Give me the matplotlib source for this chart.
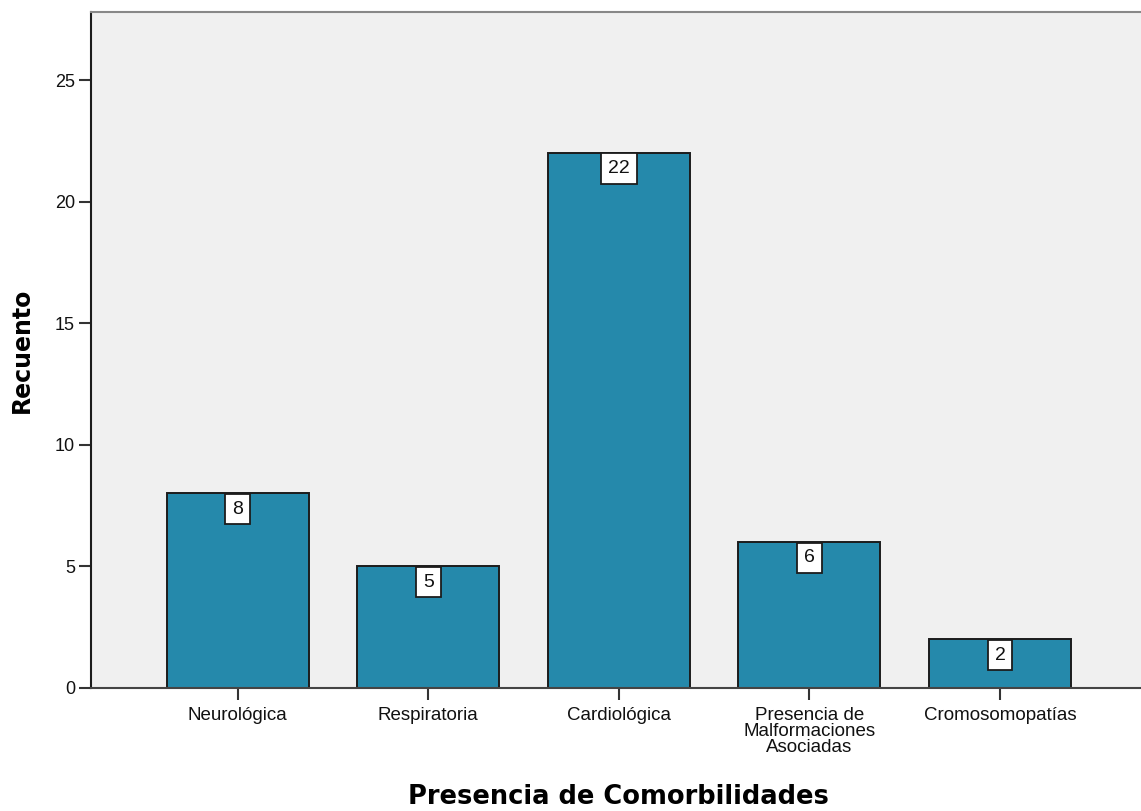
import matplotlib.pyplot as plt

categories = ["Neurológica", "Respiratoria", "Cardiológica",
              "Presencia de\nMalformaciones\nAsociadas", "Cromosomopatías"]
counts = [8, 5, 22, 6, 2]
yticks = [0, 5, 10, 15, 20, 25]

bar_color = "#2589ab"
W, H = 1141, 811

fig = plt.figure(figsize=(W / 100, H / 100), dpi=100)
# axes box in pixels: left 91, right 1141, top 12, bottom 688
ax = fig.add_axes([91 / W, (H - 688) / H, (W - 91) / W, (688 - 12) / H])
ax.set_facecolor("#f0f0f0")

x = list(range(len(categories)))
ax.bar(x, counts, width=0.745, color=bar_color, edgecolor="#1c1c1c",
       linewidth=1.4, zorder=2)

# value labels in white boxes hanging from the top of each bar
for xi, v in zip(x, counts):
    ax.annotate(str(v), (xi, v), xytext=(0, -5.2), textcoords="offset points",
                ha="center", va="top", fontsize=14, family="Liberation Sans",
                color="#111111",
                bbox=dict(boxstyle="square,pad=0.35", fc="white", ec="#1c1c1c", lw=1.3),
                zorder=3)

ax.set_xlim(-0.77, 4.74)
ax.set_ylim(0, 27.8)
ax.set_xticks(x)
ax.set_xticklabels(categories, fontsize=13.5, family="Liberation Sans",
                   linespacing=0.9, color="#111111")
ax.set_yticks(yticks)
ax.set_yticklabels([str(t) for t in yticks], fontsize=13, family="Liberation Sans",
                   color="#111111")
ax.tick_params(axis="both", length=8.5, width=1.5, color="#333333")
ax.tick_params(axis="x", pad=5.5)
ax.tick_params(axis="y", pad=3)

ax.spines["right"].set_visible(False)
ax.spines["top"].set_color("#888888")
ax.spines["top"].set_linewidth(1.5)
ax.spines["left"].set_color("#1c1c1c")
ax.spines["left"].set_linewidth(1.5)
ax.spines["bottom"].set_color("#444444")
ax.spines["bottom"].set_linewidth(1.5)

fig.text(22 / W, (H - 350) / H, "Recuento", rotation=90, ha="center", va="center",
         fontsize=17, fontweight="bold", family="DejaVu Sans")
fig.text(618 / W, 7 / H, "Presencia de Comorbilidades", ha="center", va="baseline",
         fontsize=18.5, fontweight="bold", family="DejaVu Sans")

fig.savefig("out.png", dpi=100)
